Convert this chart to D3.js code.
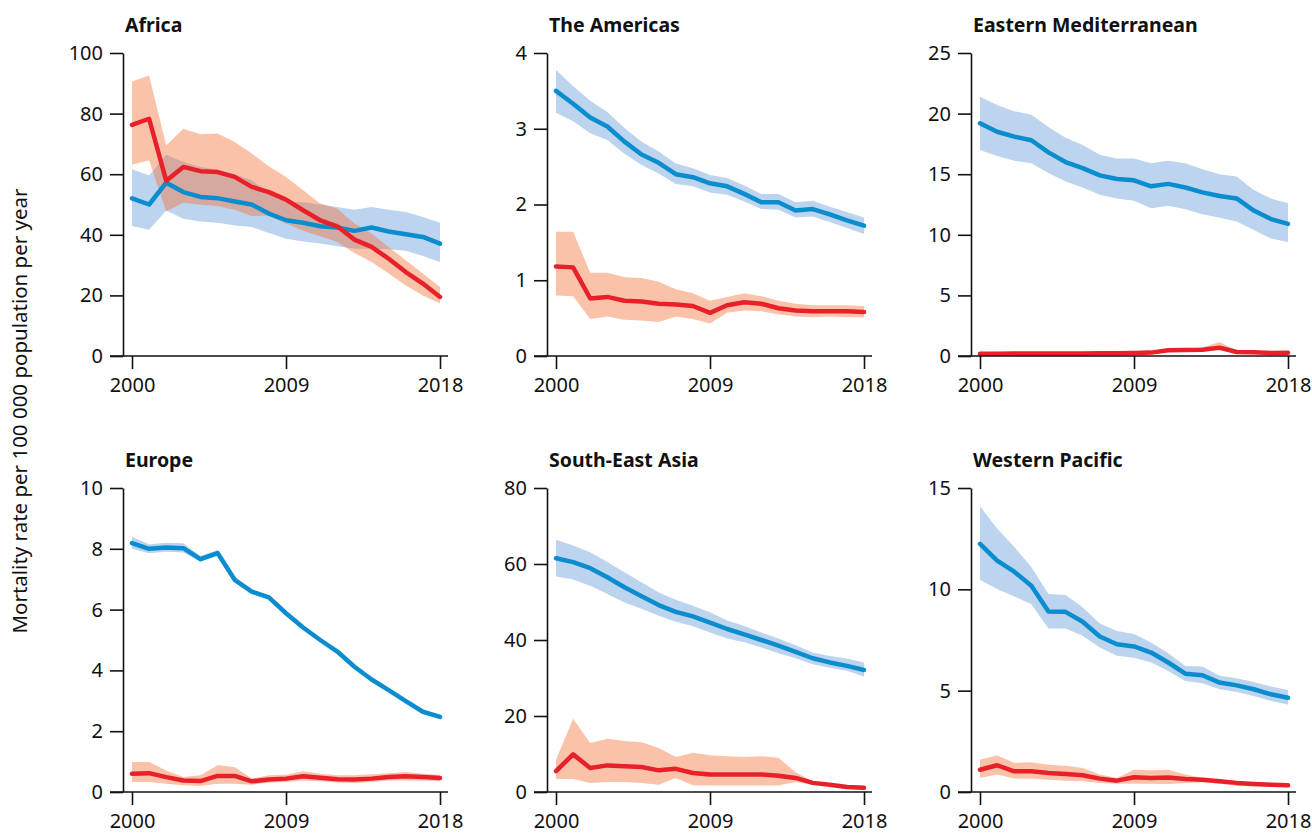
<!DOCTYPE html>
<html>
<head>
<meta charset="utf-8">
<title>Mortality rate by WHO region</title>
<style>
* { margin: 0; padding: 0; }
html, body { width: 100%; height: 100%; background: #fff; }
svg { display: block; }
text { font-family: "Noto Sans", "Open Sans", sans-serif; fill: #111; }
</style>
</head>
<body>
<script src="https://cdn.jsdelivr.net/npm/d3@7/dist/d3.min.js"></script>
<script>
// years and tick labels
var years = [2000,2001,2002,2003,2004,2005,2006,2007,2008,2009,2010,2011,2012,2013,2014,2015,2016,2017,2018];
var xTicks = [2000, 2009, 2018];

// Africa
var africaBlue   = [52,50,57.2,54.1,52.5,52.1,51,50,47,44.8,44,42.8,42.4,41.3,42.4,41.1,40.2,39.3,37.1];
var africaBlueHi = [61.6,59.6,66.4,64,62.4,61.5,60,58,53.6,50.8,50.8,50,49.2,48.3,49.2,48.3,47.5,45.9,44];
var africaBlueLo = [42.9,41.7,48,45.3,44.4,44,43.1,42.6,40.6,38.7,37.8,37.1,36.2,35.4,35.4,35.2,34.7,33,31];
var africaRed    = [76.3,78.3,57.8,62.4,61,60.7,59.1,55.8,54.1,51.6,48.1,44.8,42.8,38.4,36,32.1,27.7,23.9,19.5];
var africaRedHi  = [90.6,92.6,69.5,75,73.2,73.4,70.6,66.8,62.6,59.1,54.7,50.3,48.6,43.7,40.4,36,31.6,27.2,22.8];
var africaRedLo  = [63.1,64.6,47.7,50.6,49.9,49.5,48.3,46.2,46.4,43.7,41.3,39.5,37.6,34,31,27.2,23.3,20,17.3];

// The Americas
var americasBlue   = [3.5,3.33,3.15,3.03,2.83,2.66,2.55,2.4,2.36,2.28,2.24,2.14,2.03,2.03,1.92,1.94,1.87,1.79,1.72];
var americasBlueHi = [3.78,3.56,3.37,3.22,3.01,2.83,2.7,2.54,2.48,2.39,2.35,2.25,2.14,2.14,2.03,2.05,1.97,1.9,1.83];
var americasBlueLo = [3.21,3.1,2.94,2.85,2.67,2.52,2.41,2.27,2.24,2.16,2.13,2.04,1.94,1.93,1.83,1.84,1.77,1.69,1.61];
var americasRed    = [1.18,1.17,0.76,0.78,0.73,0.72,0.69,0.68,0.66,0.57,0.67,0.71,0.69,0.63,0.6,0.59,0.59,0.59,0.58];
var americasRedHi  = [1.64,1.64,1.1,1.1,1.04,1.03,0.98,0.88,0.83,0.73,0.78,0.83,0.79,0.73,0.69,0.67,0.67,0.67,0.66];
var americasRedLo  = [0.8,0.79,0.49,0.52,0.48,0.47,0.45,0.52,0.49,0.43,0.57,0.6,0.59,0.55,0.52,0.51,0.52,0.51,0.51];

// Eastern Mediterranean
var emrBlue   = [19.2,18.5,18.1,17.8,16.8,16,15.5,14.9,14.6,14.5,14,14.2,13.9,13.5,13.2,13,12,11.3,10.9];
var emrBlueHi = [21.4,20.7,20.2,19.9,18.9,18,17.4,16.6,16.3,16.3,15.9,16.1,15.9,15.4,15,14.8,13.7,13,12.6];
var emrBlueLo = [17,16.5,16.1,15.9,15.1,14.4,13.9,13.3,13,12.8,12.2,12.4,12.1,11.7,11.4,11.1,10.4,9.7,9.4];
var emrRed    = [0.19,0.19,0.2,0.21,0.2,0.2,0.21,0.22,0.22,0.24,0.28,0.47,0.5,0.52,0.69,0.33,0.3,0.25,0.27];
var emrRedHi  = [0.3,0.3,0.3,0.32,0.3,0.3,0.32,0.33,0.33,0.35,0.4,0.58,0.62,0.7,1.15,0.45,0.4,0.35,0.37];
var emrRedLo  = [0.12,0.12,0.12,0.13,0.12,0.12,0.13,0.13,0.13,0.15,0.18,0.35,0.38,0.38,0.45,0.22,0.2,0.16,0.17];

// Europe
var europeBlue   = [8.19,8,8.04,8.02,7.66,7.86,6.98,6.59,6.4,5.88,5.41,5,4.62,4.12,3.7,3.35,2.99,2.64,2.47];
var europeBlueHi = [8.4,8.15,8.2,8.18,7.76,7.96,7.06,6.66,6.46,5.93,5.46,5.05,4.66,4.16,3.74,3.38,3.02,2.67,2.5];
var europeBlueLo = [8,7.85,7.9,7.88,7.57,7.77,6.9,6.52,6.34,5.83,5.36,4.95,4.58,4.08,3.66,3.32,2.96,2.61,2.44];
var europeRed    = [0.6,0.62,0.49,0.38,0.36,0.53,0.53,0.35,0.41,0.44,0.52,0.47,0.42,0.41,0.44,0.49,0.52,0.49,0.46];
var europeRedHi  = [0.99,0.99,0.71,0.49,0.55,0.88,0.82,0.44,0.55,0.57,0.68,0.6,0.55,0.55,0.58,0.62,0.66,0.6,0.57];
var europeRedLo  = [0.33,0.33,0.27,0.22,0.2,0.27,0.27,0.24,0.31,0.33,0.38,0.35,0.31,0.3,0.33,0.38,0.38,0.38,0.35];

// South-East Asia
var searBlue   = [61.5,60.5,58.9,56.5,53.9,51.5,49.2,47.4,46.2,44.6,42.9,41.5,40,38.5,36.9,35.2,34.1,33.2,32.1];
var searBlueHi = [66.4,64.9,63.1,60.5,57.8,55.2,52.5,50.6,49,47.3,45.1,43.7,42,40.4,38.6,36.7,35.8,35.1,34.1];
var searBlueLo = [56.7,55.9,54.3,52.1,49.9,48.2,46.4,44.8,43.6,42,40.4,39.4,38,36.5,35.2,33.6,32.7,31.9,30.3];
var searRed    = [5.5,9.9,6.3,7,6.8,6.6,5.7,6.1,5,4.6,4.6,4.6,4.6,4.3,3.7,2.4,1.9,1.3,1.1];
var searRedHi  = [8.5,19.3,12.9,14,13.4,13.1,11.6,9.2,10.3,9.7,9.4,9.2,9.4,9,5.2,2.8,2.2,1.7,1.5];
var searRedLo  = [3.4,3.4,2.4,2.6,2.6,2.4,1.9,3.7,1.8,1.7,1.7,1.7,1.7,1.7,2.6,1.9,1.5,0.9,0.6];

// Western Pacific
var wprBlue   = [12.24,11.42,10.87,10.18,8.91,8.89,8.4,7.67,7.29,7.18,6.88,6.39,5.84,5.76,5.4,5.26,5.07,4.82,4.65];
var wprBlueHi = [14.1,13,12.1,11.1,9.77,9.72,9.11,8.32,7.94,7.79,7.38,6.85,6.22,6.19,5.73,5.61,5.43,5.2,5.03];
var wprBlueLo = [10.46,10.02,9.65,9.27,8.07,8.07,7.71,7.13,6.72,6.63,6.39,5.97,5.48,5.36,5.07,4.93,4.74,4.49,4.32];
var wprRed    = [1.1,1.32,1.02,1.02,0.94,0.89,0.83,0.66,0.56,0.73,0.69,0.71,0.64,0.61,0.53,0.45,0.4,0.36,0.33];
var wprRedHi  = [1.6,1.8,1.44,1.47,1.35,1.3,1.19,0.86,0.69,1.1,1.07,1.1,0.86,0.69,0.61,0.53,0.48,0.45,0.41];
var wprRedLo  = [0.69,0.86,0.66,0.66,0.61,0.56,0.53,0.45,0.41,0.41,0.41,0.4,0.45,0.48,0.41,0.31,0.28,0.28,0.25];

var regionNames = ["Africa", "The Americas", "Eastern Mediterranean", "Europe", "South-East Asia", "Western Pacific"];
var yTickSets = [[0,20,40,60,80,100], [0,1,2,3,4], [0,5,10,15,20,25], [0,2,4,6,8,10], [0,20,40,60,80], [0,5,10,15]];
var yLabel = "Mortality rate per 100 000 population per year";

var blueSeries = [[africaBlue, africaBlueLo, africaBlueHi], [americasBlue, americasBlueLo, americasBlueHi],
                  [emrBlue, emrBlueLo, emrBlueHi], [europeBlue, europeBlueLo, europeBlueHi],
                  [searBlue, searBlueLo, searBlueHi], [wprBlue, wprBlueLo, wprBlueHi]];
var redSeries  = [[africaRed, africaRedLo, africaRedHi], [americasRed, americasRedLo, americasRedHi],
                  [emrRed, emrRedLo, emrRedHi], [europeRed, europeRedLo, europeRedHi],
                  [searRed, searRedLo, searRedHi], [wprRed, wprRedLo, wprRedHi]];

var width = 1312, height = 833;
var svg = d3.select("body").append("svg").attr("width", width).attr("height", height);

// panel geometry
var axisX0 = 123, colStep = 424;
var rowTop = [53, 488], rowBottom = [356, 792];

// y axis title
svg.append("text")
	.attr("transform", "translate(27,411) rotate(-90)")
	.attr("text-anchor", "middle")
	.style("font-size", "20.5px")
	.text(yLabel);

regionNames.forEach(function(name, i) {
	var col = i % 3, row = Math.floor(i / 3);
	var ax = axisX0 + col * colStep;
	var top = rowTop[row], bottom = rowBottom[row];
	var yTicks = yTickSets[i];

	var x = d3.scaleLinear().domain([2000, 2018]).range([ax + 9, ax + 317]);
	var y = d3.scaleLinear().domain([0, d3.max(yTicks)]).range([bottom, top]);

	var g = svg.append("g").attr("class", "panel");

	var rows = function(s) {
		return years.map(function(yr, k) { return { year: yr, v: s[0][k], lo: s[1][k], hi: s[2][k] }; });
	};
	var blue = rows(blueSeries[i]), red = rows(redSeries[i]);

	var area = d3.area().x(function(d) { return x(d.year); })
		.y0(function(d) { return y(d.lo); }).y1(function(d) { return y(d.hi); });
	var line = d3.line().x(function(d) { return x(d.year); }).y(function(d) { return y(d.v); });

	// bands
	g.append("path").datum(blue).attr("d", area).attr("fill", "#bdd4ee");
	g.append("path").datum(red).attr("d", area).attr("fill", "#f67139").attr("fill-opacity", 0.43);

	// lines
	g.append("path").datum(blue).attr("d", line)
		.attr("fill", "none").attr("stroke", "#0a8dcf").attr("stroke-width", 4.5)
		.attr("stroke-linejoin", "round").attr("stroke-linecap", "round");
	g.append("path").datum(red).attr("d", line)
		.attr("fill", "none").attr("stroke", "#e8202a").attr("stroke-width", 4.5)
		.attr("stroke-linejoin", "round").attr("stroke-linecap", "round");

	// y axis
	var yAxis = g.append("g")
		.attr("transform", "translate(" + ax + ",0)")
		.call(d3.axisLeft(y).tickValues(yTicks).tickFormat(d3.format("d"))
			.tickSize(13).tickPadding(7).tickSizeOuter(0));
	// x axis
	var xAxis = g.append("g")
		.attr("transform", "translate(0," + bottom + ")")
		.call(d3.axisBottom(x).tickValues(xTicks).tickFormat(d3.format("d"))
			.tickSize(13).tickPadding(9).tickSizeOuter(0));
	xAxis.select(".domain").attr("d", "M" + (ax - 13) + ",0H" + (ax + 325));

	[yAxis, xAxis].forEach(function(a) {
		a.selectAll(".domain, .tick line").attr("stroke", "#111").attr("stroke-width", 1.6);
		a.selectAll("text").style("font-size", "20px").style("font-family", "'Noto Sans', sans-serif").attr("fill", "#111");
	});

	// title
	g.append("text")
		.attr("x", ax + 2).attr("y", top - 21)
		.style("font-size", "19.5px").style("font-weight", "bold")
		.text(name);
});
</script>
</body>
</html>
